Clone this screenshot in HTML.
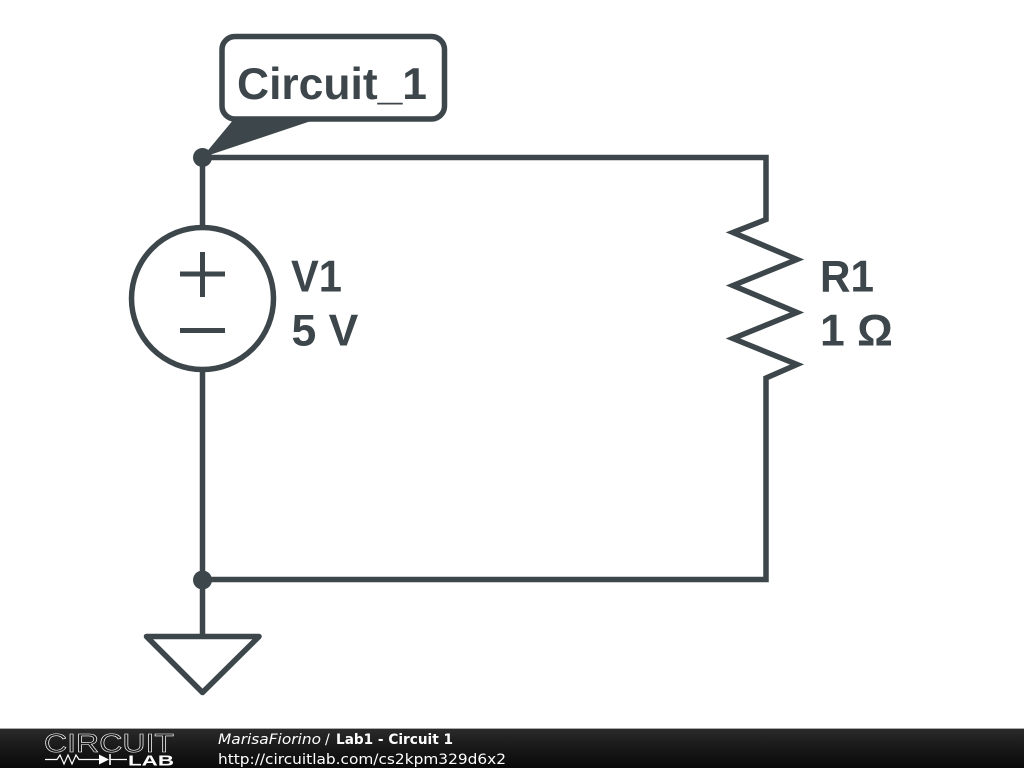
<!DOCTYPE html>
<html><head><meta charset="utf-8"><style>html,body{margin:0;padding:0;background:#fff}svg{display:block}</style></head>
<body>
<svg xmlns="http://www.w3.org/2000/svg" width="1024" height="768" viewBox="0 0 1024 768">
<defs><linearGradient id="g" x1="0" y1="0" x2="0" y2="1"><stop offset="0" stop-color="#2a2a2a"/><stop offset="0.5" stop-color="#181818"/><stop offset="1" stop-color="#0a0a0a"/></linearGradient></defs>
<rect width="1024" height="768" fill="#fff"/>
<g fill="none" stroke="#3c464b" stroke-width="5.5">
<path d="M202.5 157.5V227M202.5 370V636"/>
<path d="M202.5 157.5H766V219.5L733 232.5L797 259.5L733 285.5L797 312.5L733 338.5L797 364.5L766 378V579.5H202.5" stroke-linejoin="miter"/>
<circle cx="202.5" cy="298.5" r="71"/>
<path d="M146.5 636.5H259L202.5 692.5Z" stroke-linejoin="round"/>
<rect x="222" y="36.5" width="222.5" height="82.5" rx="13" ry="13"/>
</g>
<path d="M202.5 252V297M180 274H225M180 330.5H225" fill="none" stroke="#3c464b" stroke-width="5"/>
<path d="M234 119L202 157.5L317 119Z" fill="#3c464b"/>
<circle cx="202.5" cy="157.5" r="9.5" fill="#3c464b"/>
<circle cx="202.5" cy="580" r="9.5" fill="#3c464b"/>
<g font-family="'Liberation Sans',sans-serif" font-weight="700" font-size="44.5" fill="#3c464b">
<text x="237" y="99" textLength="190" lengthAdjust="spacingAndGlyphs">Circuit_1</text>
<text x="291" y="291.5" textLength="51" lengthAdjust="spacingAndGlyphs">V1</text>
<text x="291.5" y="345.5">5 V</text>
<text x="820" y="291.5" textLength="54" lengthAdjust="spacingAndGlyphs">R1</text>
<text x="820" y="345.5">1 Ω</text>
</g>
<rect y="728" width="1024" height="1" fill="#aaa"/>
<rect y="729" width="1024" height="39" fill="url(#g)"/>
<text x="44" y="752" font-family="'Liberation Sans',sans-serif" font-size="26" fill="#1a1a1a" stroke="#fff" stroke-width="0.6" textLength="130" lengthAdjust="spacingAndGlyphs">CIRCUIT</text>
<path d="M45 759.5H57L60 755L64 764L68 755L72 764L76 755L79 759.5H99M118 759.5H127" fill="none" stroke="#fff" stroke-width="1.2"/>
<path d="M99 754.5L109 759.5L99 764.5Z" fill="#fff"/>
<path d="M110 754V765" stroke="#fff" stroke-width="1.6"/>
<path d="M110 759.5H118" stroke="#fff" stroke-width="1.2"/>
<text x="128" y="765.5" font-family="'Liberation Sans',sans-serif" font-weight="700" font-size="15" fill="#fff" textLength="46" lengthAdjust="spacingAndGlyphs">LAB</text>
<g font-family="'DejaVu Sans',sans-serif" font-size="14" fill="#fff">
<text x="218" y="744" font-style="italic" textLength="103" lengthAdjust="spacingAndGlyphs">MarisaFiorino</text>
<text x="325" y="744">/</text>
<text x="336" y="744" font-weight="700" textLength="117" lengthAdjust="spacingAndGlyphs">Lab1 - Circuit 1</text>
<text x="218" y="764" textLength="288" lengthAdjust="spacingAndGlyphs">http://circuitlab.com/cs2kpm329d6x2</text>
</g>
</svg>
</body></html>
